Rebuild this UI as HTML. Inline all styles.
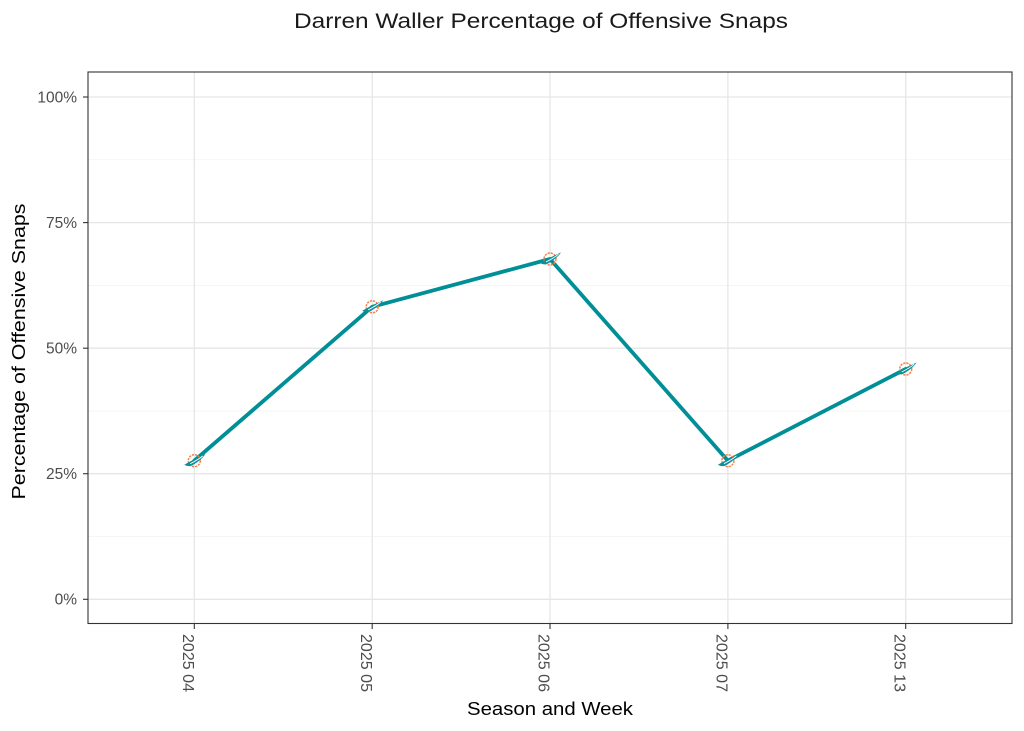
<!DOCTYPE html>
<html>
<head>
<meta charset="utf-8">
<style>
  html,body{margin:0;padding:0;background:#fff;}
  svg{display:block;}
  text{font-family:"Liberation Sans","DejaVu Sans",sans-serif;}
</style>
</head>
<body>
<svg width="1024" height="731" viewBox="0 0 1024 731" xmlns="http://www.w3.org/2000/svg">
  <rect x="0" y="0" width="1024" height="731" fill="#fff"/>
  <!-- title -->
  <text x="541" y="28" font-size="21" text-anchor="middle" fill="#1a1a1a" textLength="494" lengthAdjust="spacingAndGlyphs">Darren Waller Percentage of Offensive Snaps</text>

  <!-- panel background -->
  <rect x="88" y="72" width="924" height="551.5" fill="#fff"/>

  <!-- minor gridlines -->
  <g stroke="#f2f2f2" stroke-width="0.7">
    <line x1="88" x2="1012" y1="159.8" y2="159.8"/>
    <line x1="88" x2="1012" y1="285.4" y2="285.4"/>
    <line x1="88" x2="1012" y1="411" y2="411"/>
    <line x1="88" x2="1012" y1="536.5" y2="536.5"/>
  </g>
  <!-- major gridlines -->
  <g stroke="#e6e6e6" stroke-width="1.3">
    <line x1="88" x2="1012" y1="97" y2="97"/>
    <line x1="88" x2="1012" y1="222.6" y2="222.6"/>
    <line x1="88" x2="1012" y1="348.2" y2="348.2"/>
    <line x1="88" x2="1012" y1="473.7" y2="473.7"/>
    <line x1="88" x2="1012" y1="599.3" y2="599.3"/>
    <line x1="194.3" x2="194.3" y1="72" y2="623.5"/>
    <line x1="372.2" x2="372.2" y1="72" y2="623.5"/>
    <line x1="550" x2="550" y1="72" y2="623.5"/>
    <line x1="727.9" x2="727.9" y1="72" y2="623.5"/>
    <line x1="905.7" x2="905.7" y1="72" y2="623.5"/>
  </g>

  <!-- data line -->
  <polyline points="194.3,460.7 372.2,306.8 550,259 727.9,460.7 905.7,369" fill="none" stroke="#008E97" stroke-width="3.8" stroke-linejoin="round" stroke-linecap="round"/>

  <!-- markers (logo approximations) -->
  <defs>
    <g id="logo">
      <circle cx="0" cy="0" r="6" fill="none" stroke="#F5814A" stroke-width="1.5" stroke-dasharray="2.2 1"/>
      <path d="M-10,4 C-5,1 2,-2.5 11,-6.5 C8,-2 2,2.5 -3,5 C-6,6 -8,5 -10,4 Z" fill="#0B8F98"/>
      <path d="M-4,3 C0,1 4,-1 8.5,-4.8" fill="none" stroke="#ffffff" stroke-width="0.9"/>
    </g>
  </defs>
  <use href="#logo" x="194.3" y="460.7"/>
  <use href="#logo" x="372.2" y="306.8"/>
  <use href="#logo" x="550" y="259"/>
  <use href="#logo" x="727.9" y="460.7"/>
  <use href="#logo" x="905.7" y="369"/>

  <!-- panel border -->
  <rect x="88" y="72" width="924" height="551.5" fill="none" stroke="#333" stroke-width="1.1"/>

  <!-- ticks -->
  <g stroke="#333" stroke-width="1.1">
    <line x1="83" x2="88" y1="97" y2="97"/>
    <line x1="83" x2="88" y1="222.6" y2="222.6"/>
    <line x1="83" x2="88" y1="348.2" y2="348.2"/>
    <line x1="83" x2="88" y1="473.7" y2="473.7"/>
    <line x1="83" x2="88" y1="599.3" y2="599.3"/>
    <line x1="194.3" x2="194.3" y1="623.5" y2="629"/>
    <line x1="372.2" x2="372.2" y1="623.5" y2="629"/>
    <line x1="550" x2="550" y1="623.5" y2="629"/>
    <line x1="727.9" x2="727.9" y1="623.5" y2="629"/>
    <line x1="905.7" x2="905.7" y1="623.5" y2="629"/>
  </g>

  <!-- y tick labels -->
  <g font-size="15.5" fill="#4d4d4d" text-anchor="end">
    <text x="77" y="102.5">100%</text>
    <text x="77" y="228">75%</text>
    <text x="77" y="353.6">50%</text>
    <text x="77" y="479.1">25%</text>
    <text x="77" y="604.7">0%</text>
  </g>

  <!-- x tick labels -->
  <g font-size="15.5" fill="#4d4d4d">
    <text transform="translate(183,634) rotate(90)" textLength="58" lengthAdjust="spacingAndGlyphs">2025 04</text>
    <text transform="translate(360.9,634) rotate(90)" textLength="58" lengthAdjust="spacingAndGlyphs">2025 05</text>
    <text transform="translate(538.7,634) rotate(90)" textLength="58" lengthAdjust="spacingAndGlyphs">2025 06</text>
    <text transform="translate(716.6,634) rotate(90)" textLength="58" lengthAdjust="spacingAndGlyphs">2025 07</text>
    <text transform="translate(894.4,634) rotate(90)" textLength="58" lengthAdjust="spacingAndGlyphs">2025 13</text>
  </g>

  <!-- axis titles -->
  <text x="550" y="715" font-size="18.5" text-anchor="middle" fill="#000" textLength="166" lengthAdjust="spacingAndGlyphs">Season and Week</text>
  <text transform="translate(25,351.5) rotate(-90)" font-size="18.5" text-anchor="middle" fill="#000" textLength="296" lengthAdjust="spacingAndGlyphs">Percentage of Offensive Snaps</text>
</svg>
</body>
</html>
